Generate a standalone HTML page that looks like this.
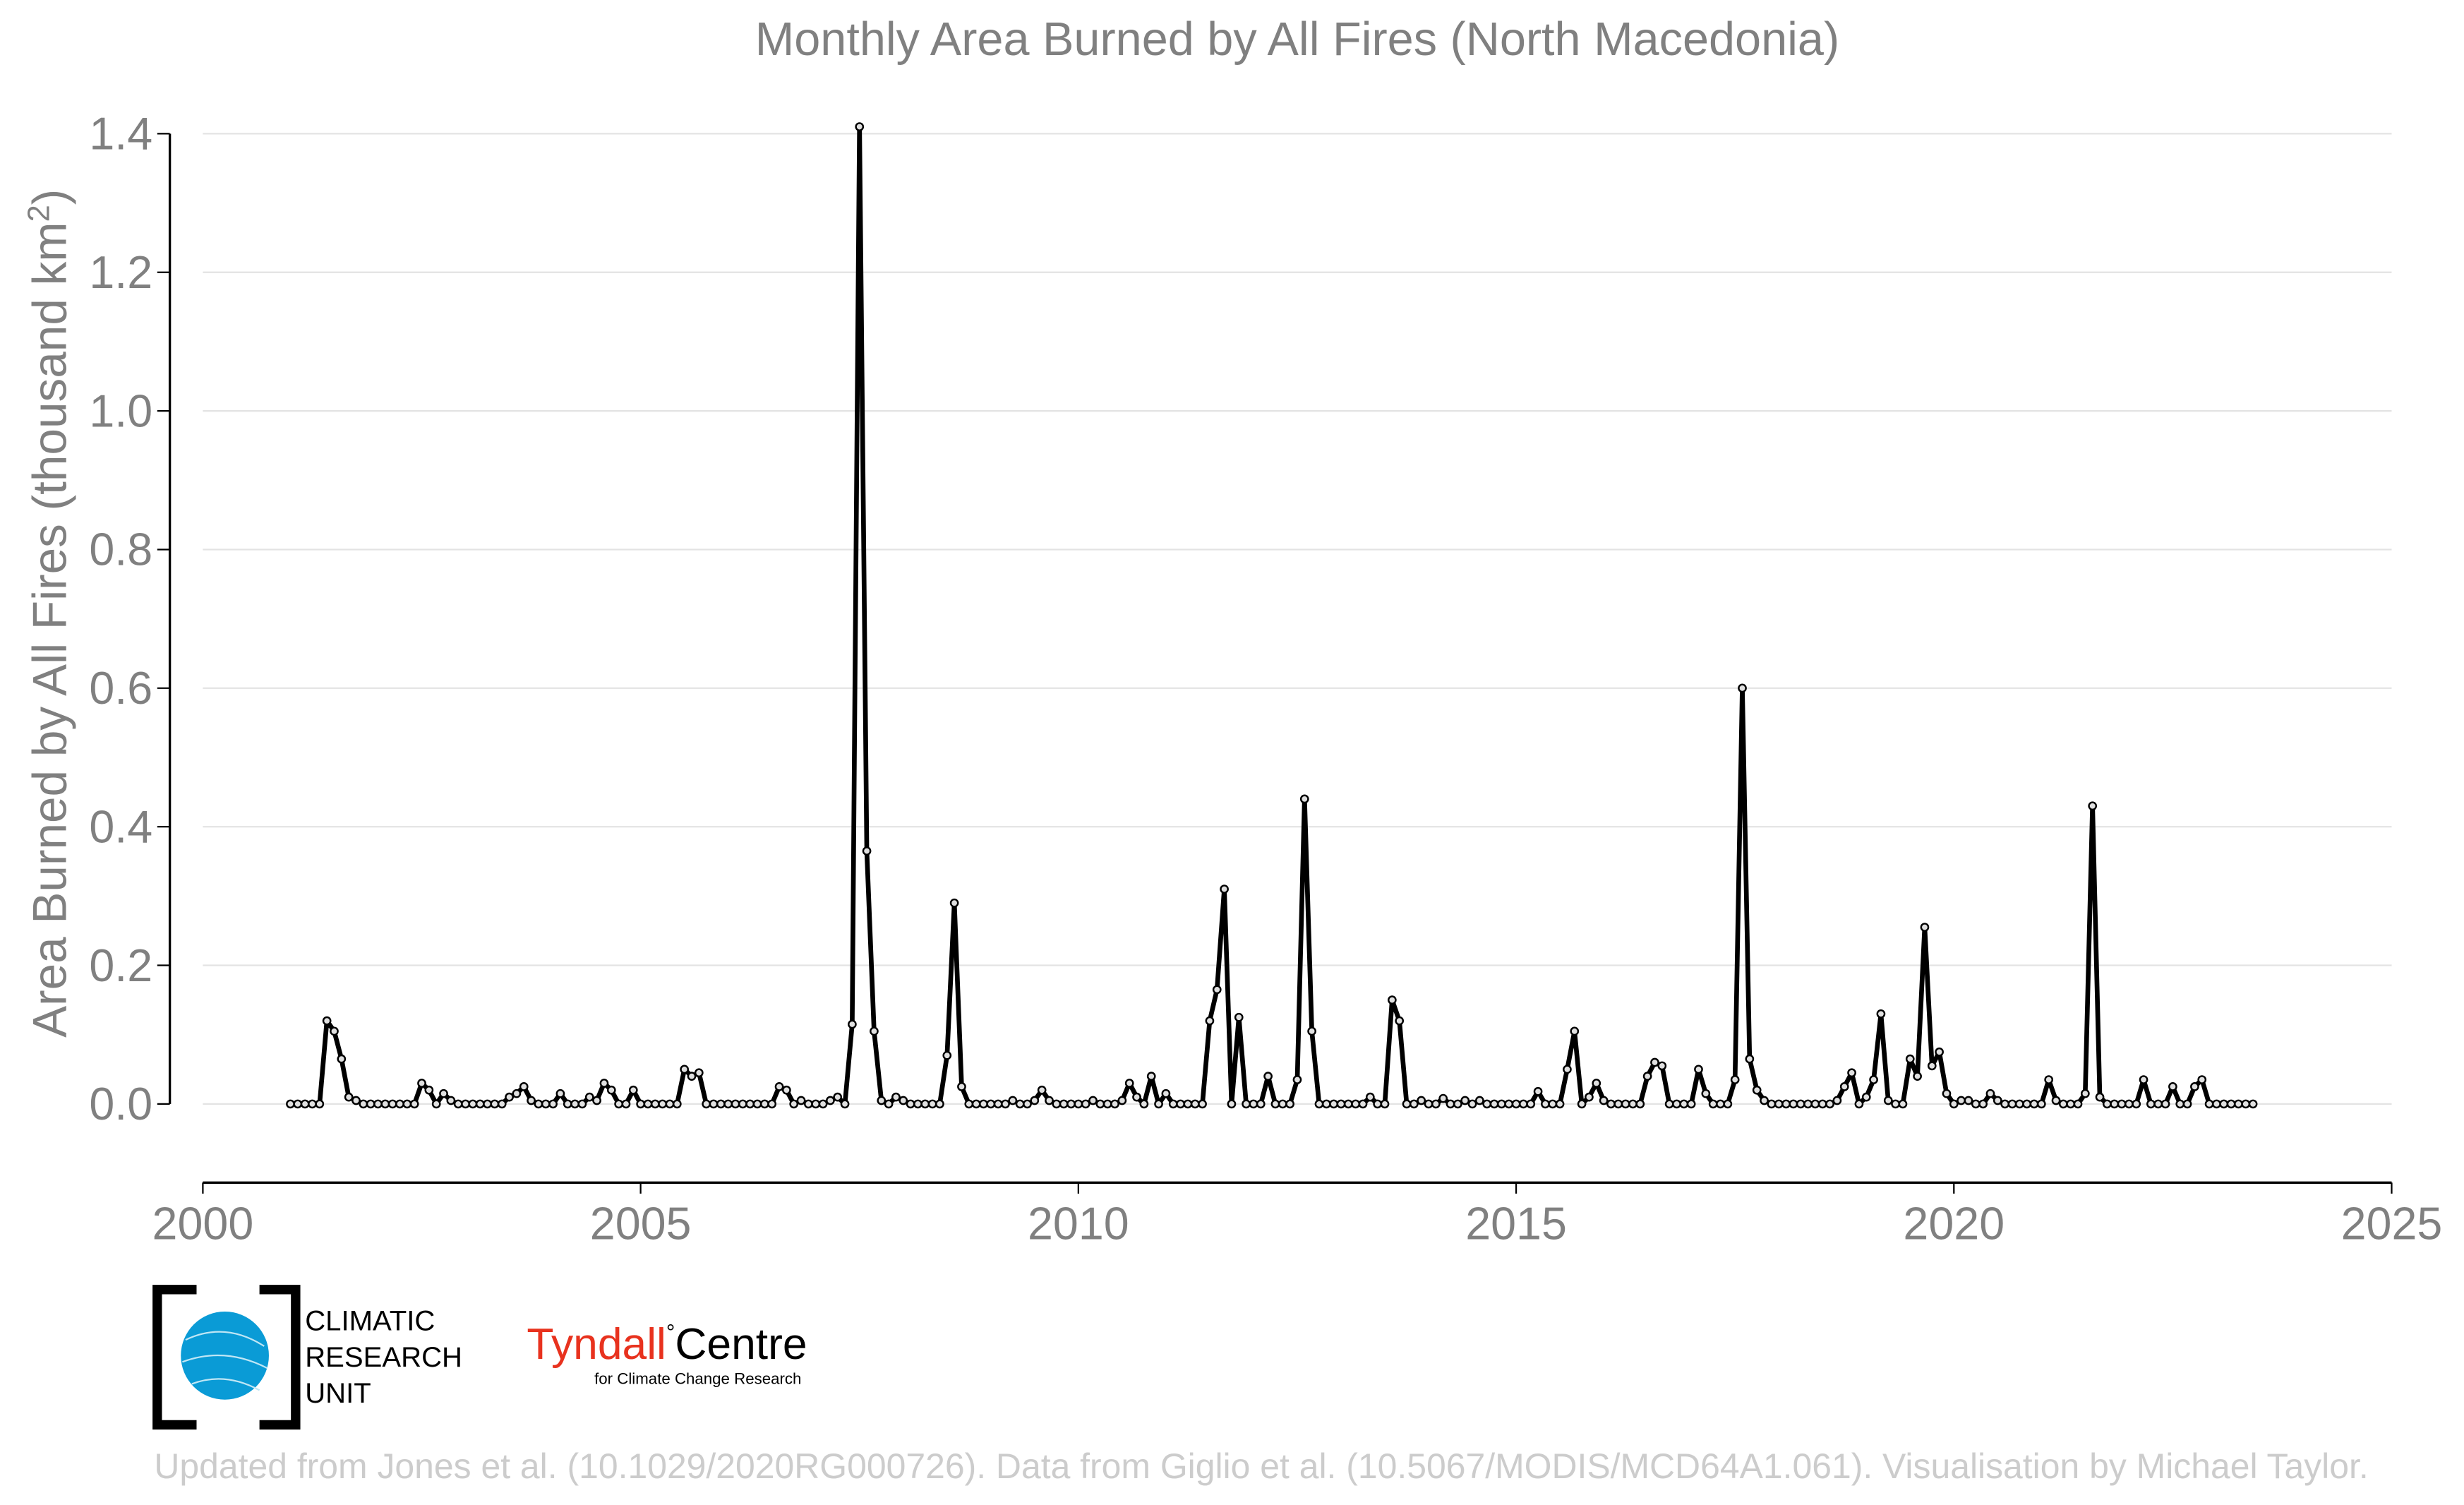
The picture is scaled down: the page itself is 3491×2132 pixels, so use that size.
<!DOCTYPE html>
<html><head><meta charset="utf-8"><style>html,body{margin:0;padding:0;background:#fff}svg{display:block}</style></head>
<body>
<svg width="3491" height="2132" viewBox="0 0 1567 957" xmlns="http://www.w3.org/2000/svg" font-family="Liberation Sans, sans-serif">
<text x="825" y="35" text-anchor="middle" font-size="29.9" fill="#808080">Monthly Area Burned by All Fires (North Macedonia)</text>
<g id="grid"></g>
<g id="axes"></g>
<text transform="translate(42,390) rotate(-90)" text-anchor="middle" font-size="30.3" fill="#808080">Area Burned by All Fires (thousand km<tspan baseline-shift="super" font-size="19.5">2</tspan>)</text>
<g id="series"></g>
<g>
<path d="M125,820 H100 V906 H125 M165,820 H188 V906 H165" fill="none" stroke="#000" stroke-width="6"/>
<circle cx="143" cy="862" r="28" fill="#0a9bd6"/>
<path d="M118,852 Q143,840 168,856 M116,866 Q143,856 170,870 M122,880 Q143,872 165,884" stroke="#bfe6f5" stroke-width="1" fill="none"/>
<text x="194" y="846" font-size="18" fill="#000">CLIMATIC</text>
<text x="194" y="869" font-size="18" fill="#000">RESEARCH</text>
<text x="194" y="892" font-size="18" fill="#000">UNIT</text>
</g>
<g>
<text x="335" y="864" font-size="28" fill="#e8321e">Tyndall<tspan fill="#000" font-size="14" dy="-12">°</tspan><tspan fill="#000" font-size="28" dy="12">Centre</tspan></text>
<text x="378" y="880" font-size="10" fill="#000">for Climate Change Research</text>
</g>
<text x="98" y="940" font-size="22.4" fill="#cccccc">Updated from Jones et al. (10.1029/2020RG000726). Data from Giglio et al. (10.5067/MODIS/MCD64A1.061). Visualisation by Michael Taylor.</text>
<script>
const startYear = 2001;
const yTicks = [0.0,0.2,0.4,0.6,0.8,1.0,1.2,1.4];
const yTickLabels = ["0.0","0.2","0.4","0.6","0.8","1.0","1.2","1.4"];
const xTicks = [2000,2005,2010,2015,2020,2025];
const v2001 = [0,0,0,0,0,0.12,0.105,0.065,0.01,0.005,0,0];
const v2002 = [0,0,0,0,0,0,0.03,0.02,0,0.015,0.005,0];
const v2003 = [0,0,0,0,0,0,0.01,0.015,0.025,0.005,0,0];
const v2004 = [0,0.015,0,0,0,0.01,0.005,0.03,0.02,0,0,0.02];
const v2005 = [0,0,0,0,0,0,0.05,0.04,0.045,0,0,0];
const v2006 = [0,0,0,0,0,0,0,0.025,0.02,0,0.005,0];
const v2007 = [0,0,0.005,0.01,0,0.115,1.41,0.365,0.105,0.005,0,0.01];
const v2008 = [0.005,0,0,0,0,0,0.07,0.29,0.025,0,0,0];
const v2009 = [0,0,0,0.005,0,0,0.005,0.02,0.005,0,0,0];
const v2010 = [0,0,0.005,0,0,0,0.005,0.03,0.01,0,0.04,0];
const v2011 = [0.015,0,0,0,0,0,0.12,0.165,0.31,0,0.125,0];
const v2012 = [0,0,0.04,0,0,0,0.035,0.44,0.105,0,0,0];
const v2013 = [0,0,0,0,0.01,0,0,0.15,0.12,0,0,0.005];
const v2014 = [0,0,0.008,0,0,0.005,0,0.005,0,0,0,0];
const v2015 = [0,0,0,0.018,0,0,0,0.05,0.105,0,0.01,0.03];
const v2016 = [0.005,0,0,0,0,0,0.04,0.06,0.055,0,0,0];
const v2017 = [0,0.05,0.015,0,0,0,0.035,0.6,0.065,0.02,0.005,0];
const v2018 = [0,0,0,0,0,0,0,0,0.005,0.025,0.045,0];
const v2019 = [0.01,0.035,0.13,0.005,0,0,0.065,0.04,0.255,0.055,0.075,0.015];
const v2020 = [0,0.005,0.005,0,0,0.015,0.005,0,0,0,0,0];
const v2021 = [0,0.035,0.005,0,0,0,0.015,0.43,0.01,0,0,0];
const v2022 = [0,0,0.035,0,0,0,0.025,0,0,0.025,0.035,0];
const v2023 = [0,0,0,0,0,0];
const values = [].concat(v2001,v2002,v2003,v2004,v2005,v2006,v2007,v2008,v2009,v2010,v2011,v2012,v2013,v2014,v2015,v2016,v2017,v2018,v2019,v2020,v2021,v2022,v2023);

const NS = "http://www.w3.org/2000/svg";
const X0 = 129, X1 = 1521, Y0 = 702, Y1 = 85;
function xs(t){ return X0 + (t-2000)/25*(X1-X0); }
function ys(v){ return Y0 - v/1.4*(Y0-Y1); }
function mk(tag, attrs, parent){ const e=document.createElementNS(NS,tag); for(const k in attrs) e.setAttribute(k,attrs[k]); parent.appendChild(e); return e; }
const grid = document.getElementById('grid'), axes = document.getElementById('axes'), series = document.getElementById('series');
yTicks.forEach((v,i)=>{
  const g = mk('line',{x1:X0,x2:X1,y1:ys(v),y2:ys(v),stroke:'#e3e3e3','stroke-width':1},grid);
  
  
  const t = mk('line',{x1:100,x2:108,y1:ys(v),y2:ys(v),stroke:'#000','stroke-width':1},axes);
  
  
  const l = mk('text',{x:97,y:ys(v)+10,'text-anchor':'end','font-size':29,fill:'#808080'},axes);
  l.textContent = yTickLabels[i];
  
  
});
const ysp = mk('line',{x1:108,x2:108,y1:ys(1.4),y2:ys(0),stroke:'#000','stroke-width':1.5},axes);


const xsp = mk('line',{x1:X0,x2:X1,y1:752,y2:752,stroke:'#000','stroke-width':1.5},axes);


xTicks.forEach(yr=>{
  const t = mk('line',{x1:xs(yr),x2:xs(yr),y1:752,y2:759,stroke:'#000','stroke-width':1},axes);
  
  
  const l = mk('text',{x:xs(yr),y:788,'text-anchor':'middle','font-size':29,fill:'#808080'},axes);
  l.textContent = String(yr);
  
  
});
const pts = values.map((v,i)=>[xs(startYear + i/12), ys(v)]);
const path = mk('polyline',{points:pts.map(p=>p[0].toFixed(2)+','+p[1].toFixed(2)).join(' '),fill:'none',stroke:'#000','stroke-width':3,'stroke-linejoin':'round'},series);


pts.forEach(p=>{
  const c = mk('circle',{cx:p[0],cy:p[1],r:2.3,fill:'#e0e0e0',stroke:'#000','stroke-width':1.1},series);
  
  
});
</script>
</svg>
</body></html>
